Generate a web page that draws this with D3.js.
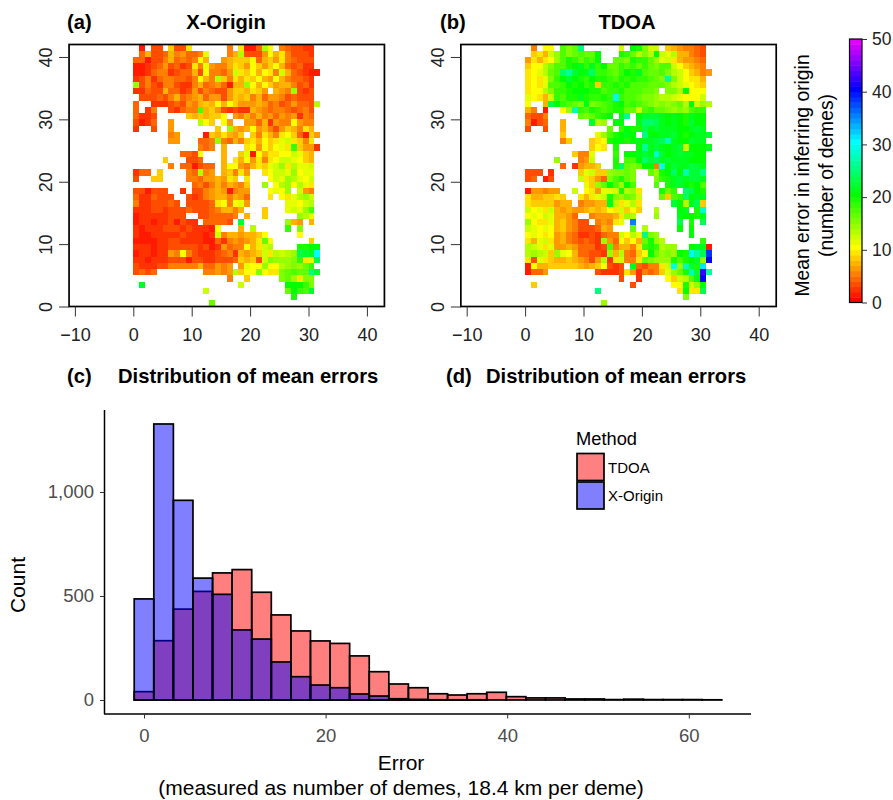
<!DOCTYPE html>
<html>
<head>
<meta charset="utf-8">
<script src="https://cdn.jsdelivr.net/npm/d3@7"></script>
<style>
  html, body { margin: 0; padding: 0; background: #fff; }
  text { font-family: "Liberation Sans", Arial, Helvetica, sans-serif; }
</style>
</head>
<body>
<div id="chart"></div>
<script>
// one char per cell, "." = no data, char position in cellCodes = mean error in demes
// rows run from y = 41 down to y = 0, groups of 10 columns for easier reading
const cellCodes = "0123456789abcdefghijklmnopqrstuvwxyzABCDEFGHIJKLMNOP";

const xOriginRows = [
  ".1.33.8339 ......5.91 14da.54332 2.",
  ".473347564 45b...57d3 336a795333 2.",
  "4413357454 5a7..67888 a478695433 3.",
  "1123463423 95b6557986 a868a74342 2.",
  "1124552344 73a5546c98 a7a95c7432 11",
  "2352455443 5a75d85979 8a76a75443 2.",
  "e353255322 574564177e a7a8677534 2.",
  "2243374423 6354336887 986.765e32 3.",
  ".333435745 6746636878 5746653433 3.",
  "4..2223436 5787a7a866 6764534644 3d",
  "4.25..3245 5h78632322 7654554345 3.",
  "4223.....8 78788a.657 5756465625 4.",
  "3124..6... .da8.a6..6 6472655a65 5.",
  "2..3..6... ....8.e767 a675368759 7.",
  "......56.. ..1879768. 859759a841 86",
  "......66.. .445e54758 97a89bc985 9.",
  ".......... .545.7...9 a6a8ab9i86 62",
  "........44 3a...7..8b 1a799aacb8 7.",
  ".....8...3 34...7.97a 6959accba8 7.",
  "......5.44 1344.7aa65 798bce9dbb c.",
  "244.8....5 4d56.78596 ..9accbeab b.",
  "3..88....5 54667698.9 ...acbedba c.",
  ".......... 4535757658 ..e.adeadb 9.",
  "331333..2. 3356761566 ...abae.c6 5.",
  "4224333..3 2356775764 ...9.a9bde c.",
  "52233343.3 33349a5ab6 ......bbac d.",
  "2223323334 333457757. ..8...bcbe h.",
  "122222333. .3344445.7 ..8.....ed b.",
  "1221223132 2.44443.m. ......e76. 7.",
  "2122233323 2221a...7. d.....i.f. ..",
  "2112222232 2212c57767 78a.....a. ..",
  "1111223322 2211425656 79ga...... 8.",
  "2221223333 323126455a 79cd....jj kk",
  "12212265a5 3222345276 78c9dcdenm lu",
  "2212223331 3322333487 83cfeeefi9 bn",
  "3222335555 5744656.6b aaeaadefeg i.",
  "3434...... ..55656d8a afa99fghgg pm",
  ".......... ......5..8 .....fge9f f.",
  ".l........ ........c. ......kkki f.",
  ".......... ..c....... ......gkih m.",
  ".......... .......... .......j.. ..",
  ".......... ...g...... .......... .."
];

const tdoaRows = [
  ".5.aa.hfgp ......c.kj fcc.876554 3.",
  ".897cehfgh ggk...jigd fdkcbd7754 3.",
  "6979aehjig ihk..ggfji igebc97665 4.",
  "8aadfhhjkl ilikggihig igfhhca876 5.",
  "9abdghoqmk loiihgikjl hgghfdca87 56",
  "9a9bfikmkj ikjjihjiji ihgfqfca99 7.",
  "9a9bhhikjk ij8iijijhh hgggfdcba9 8.",
  "9aadfiijkk kjjhiijhhh ggf.ffdkaa a.",
  "ba97cihjjl jiijitihhg ffeddcbaaa c.",
  "a..7nkihgf lfghijkhih gfefefgdkc ed",
  "75.1..aeri hjihijjggc higgfefehi i.",
  "4335.....g fgijk.lq.k mmmlklkjlk k.",
  "5134..7... .mde.kk..l oonlklkjmk k.",
  "3..3..7... ....g.ikjj nlmlllkklm l.",
  "......8... ..behjklk. pkkllmkjkl lm",
  "......58.. .89ajkkjkl llmnrlkkml l.",
  ".......... .8a9.j...k qlmlklmckk kl",
  "........85 5b...i.kkl mlsmklmllk k.",
  ".....e...5 6c...j.hhk omnlmlllkk k.",
  "......4.26 778..jogfg kk5tkmllnm l.",
  "333.2....8 bc88effgf. .gejkokrmm p.",
  "34.13....c 9864fhjgf. ..fijlmlmm l.",
  ".......... b8egkhekh. ..h.jlmkjk h.",
  "166566..c. a96bbcjde9 ...jgi.onk j.",
  "9778898..9 79bcjfegfc ...g8hiokl l.",
  "98888677.5 6677ld9bd9 .....mkdln 8.",
  "cab9c76766 7878a9c8a8 ..d...kl.j s.",
  "abacb7764. .566679ed. ..e...lkkj l.",
  "ea99b78653 3.5659b.z. ......n.j. n.",
  "cbaba78653 33476...g. d.....k.k. ..",
  "aba9a67542 232455cadb pfe.....k. ..",
  "97bc967543 432e64a8a7 gjed...... i.",
  "dcb9b66764 4423h57759 ijidee..kl l1",
  "dedc8eba74 4332e7d548 akgefekjtq nC",
  "93b9877876 536d29c559 gfeeejhjkm eE",
  "1a77888887 678a323.l4 3559ctermj v.",
  "1446...... ..32223962 5458begjrm Gq",
  ".......... ......3..2 ....a8cdhl E.",
  ".8........ ........3. .....aajce k.",
  ".......... ..p....... ......9k99 n.",
  ".......... .......... .......f.. ..",
  ".......... ...e...... .......... .."
];

// histogram counts, 30 bins centred on multiples of binWidth
const binWidth = 2.157;
const tdoaCounts = [40, 285, 437, 522, 611, 627, 518, 409, 332, 284, 272, 212, 136, 77, 59, 30, 24, 30, 37, 16, 10, 10, 5, 5, 2, 4, 2, 2, 2, 1];
const xOriginCounts = [486, 1327, 960, 586, 508, 337, 293, 183, 112, 72, 59, 29, 19, 6, 3, 1, 1, 1, 0, 0, 0, 0, 0, 0, 0, 0, 0, 0, 0, 0];

const mapXTicks = [-10, 0, 10, 20, 30, 40];
const mapYTicks = [0, 10, 20, 30, 40];
const barTicks = [0, 10, 20, 30, 40, 50];
const histXTicks = [0, 20, 40, 60];
const histYTicks = [0, 500, 1000];
const legendNames = ["TDOA", "X-Origin"];
const legendFills = ["#ff8080", "#8080ff"];

let svgWidth = 893,
    svgHeight = 800;

let svg = d3.select("#chart")
  .append("svg")
  .attr("width", svgWidth)
  .attr("height", svgHeight)
  .attr("viewBox", `0 0 ${svgWidth} ${svgHeight}`)
  .style("display", "block");

function errorColor(v) {
  return d3.hsl(v * 6, 1, 0.5).formatHex();
}

function parseRows(rows) {
  let cells = [];
  rows.forEach(function(row, r) {
    row.replace(/ /g, "").split("").forEach(function(ch, c) {
      if (ch !== ".") {
        cells.push({x: c, y: rows.length - 1 - r, value: cellCodes.indexOf(ch)});
      }
    });
  });
  return cells;
}

function styleAxis(g, color, tickWidth) {
  g.selectAll("path").attr("stroke", "#000").attr("stroke-width", 1.5);
  g.selectAll("line").attr("stroke", "#333").attr("stroke-width", tickWidth);
  g.selectAll("text").attr("fill", color).attr("font-family", "Liberation Sans");
}

function drawMap(rows, zeroX) {
  let pxPerDeme = 5.84,
      top = 44.5,
      bottom = 306.5;

  let x = d3.scaleLinear()
    .domain([-11, 43])
    .range([zeroX - 11 * pxPerDeme, zeroX + 43 * pxPerDeme]);
  let y = d3.scaleLinear().domain([0, 42]).range([bottom, top]);

  svg.append("g")
    .attr("class", "cells")
    .style("filter", "blur(0.35px)")
    .selectAll("rect")
    .data(parseRows(rows))
    .enter().append("rect")
      .attr("x", function(d) { return x(d.x); })
      .attr("y", function(d) { return y(d.y + 1); })
      .attr("width", x(1) - x(0))
      .attr("height", y(0) - y(1))
      .attr("fill", function(d) { return errorColor(d.value); })
      .attr("shape-rendering", "crispEdges");

  svg.append("rect")
    .attr("x", x.range()[0])
    .attr("y", top)
    .attr("width", x.range()[1] - x.range()[0])
    .attr("height", bottom - top)
    .attr("fill", "none")
    .attr("stroke", "#000")
    .attr("stroke-width", 1.7);

  let xAxis = svg.append("g")
    .attr("transform", `translate(0,${bottom})`)
    .call(d3.axisBottom(x).tickValues(mapXTicks).tickSize(10).tickPadding(11.5).tickSizeOuter(0))
    .attr("font-size", 18);
  xAxis.select(".domain").remove();
  styleAxis(xAxis, "#222", 1);

  let yAxis = svg.append("g")
    .attr("transform", `translate(${x.range()[0]},0)`)
    .call(d3.axisLeft(y).tickValues(mapYTicks).tickSize(10).tickSizeOuter(0))
    .attr("font-size", 18);
  yAxis.select(".domain").remove();
  styleAxis(yAxis, "#222", 1);
  yAxis.selectAll("text")
    .attr("text-anchor", "middle")
    .attr("dy", 0)
    .attr("x", 0)
    .attr("y", 0)
    .attr("transform", "translate(-16.7,0) rotate(-90)");
}

function drawColorBar() {
  let y = d3.scaleLinear().domain([0, 50]).range([302.5, 39]);
  let levels = d3.range(0, 50);

  svg.append("g")
    .selectAll("rect")
    .data(levels)
    .enter().append("rect")
      .attr("x", 849.5)
      .attr("y", function(d) { return y(d + 1); })
      .attr("width", 12.5)
      .attr("height", y(0) - y(1) + 0.5)
      .attr("fill", errorColor);

  svg.append("rect")
    .attr("x", 849.5)
    .attr("y", y(50))
    .attr("width", 12.5)
    .attr("height", y(0) - y(50))
    .attr("fill", "none")
    .attr("stroke", "#000")
    .attr("stroke-width", 1.2);

  let axis = svg.append("g")
    .attr("transform", "translate(862,0)")
    .call(d3.axisRight(y).tickValues(barTicks).tickSize(5).tickPadding(5).tickSizeOuter(0))
    .attr("font-size", 17.5);
  axis.select(".domain").remove();
  styleAxis(axis, "#222", 1);

  svg.append("text")
    .attr("transform", "translate(809,175.5) rotate(-90)")
    .attr("text-anchor", "middle")
    .attr("font-size", 19.3)
    .text("Mean error in inferring origin");
  svg.append("text")
    .attr("transform", "translate(833,175.5) rotate(-90)")
    .attr("text-anchor", "middle")
    .attr("font-size", 19.3)
    .text("(number of demes)");
}

function drawHistogram() {
  let x = d3.scaleLinear().domain([0, 20]).range([144, 325.6]);
  let y = d3.scaleLinear().domain([0, 1000]).range([700, 492]);

  function drawBars(counts, fill) {
    svg.append("g")
      .selectAll("rect")
      .data(counts)
      .enter().append("rect")
        .attr("x", function(d, i) { return x((i - 0.5) * binWidth); })
        .attr("y", function(d) { return y(d); })
        .attr("width", x(binWidth) - x(0))
        .attr("height", function(d) { return y(0) - y(d); })
        .attr("fill", fill)
        .attr("fill-opacity", 0.5)
        .attr("stroke", "#000")
        .attr("stroke-width", 1.7);
  }
  drawBars(tdoaCounts, "#ff0000");
  drawBars(xOriginCounts, "#0000ff");

  let xAxis = svg.append("g")
    .attr("transform", "translate(0,714)")
    .call(d3.axisBottom(x).tickValues(histXTicks).tickSize(4.5).tickPadding(10).tickSizeOuter(0))
    .attr("font-size", 18.5);
  xAxis.select(".domain").attr("d", "M104,0H751");
  styleAxis(xAxis, "#4d4d4d", 1);

  let yAxis = svg.append("g")
    .attr("transform", "translate(104.5,0)")
    .call(d3.axisLeft(y).tickValues(histYTicks).tickSize(4.5).tickPadding(6).tickSizeOuter(0).tickFormat(d3.format(",")))
    .attr("font-size", 18.5);
  yAxis.select(".domain").attr("d", "M0,410V714");
  styleAxis(yAxis, "#4d4d4d", 1);

  svg.append("text")
    .attr("transform", "translate(25,585) rotate(-90)")
    .attr("text-anchor", "middle")
    .attr("font-size", 21)
    .text("Count");
  svg.append("text")
    .attr("x", 401)
    .attr("y", 770)
    .attr("text-anchor", "middle")
    .attr("font-size", 21)
    .text("Error");
  svg.append("text")
    .attr("x", 401)
    .attr("y", 795)
    .attr("text-anchor", "middle")
    .attr("font-size", 21)
    .text("(measured as number of demes, 18.4 km per deme)");

  // legend
  svg.append("text")
    .attr("x", 576)
    .attr("y", 445)
    .attr("font-size", 18.3)
    .text("Method");
  let keys = svg.append("g")
    .selectAll("g")
    .data(legendNames)
    .enter().append("g")
      .attr("transform", function(d, i) { return `translate(577,${453.5 + i * 28.5})`; });
  keys.append("rect")
    .attr("width", 27)
    .attr("height", 27)
    .attr("fill", function(d, i) { return legendFills[i]; })
    .attr("stroke", "#000")
    .attr("stroke-width", 1.7);
  keys.append("text")
    .attr("x", 31)
    .attr("y", 19)
    .attr("font-size", 15)
    .text(function(d) { return d; });
}

function label(txt, xPos, yPos, anchor) {
  svg.append("text")
    .attr("x", xPos)
    .attr("y", yPos)
    .attr("text-anchor", anchor || "start")
    .attr("font-size", 20.2)
    .attr("font-weight", "700")
    .text(txt);
}

drawMap(xOriginRows, 133.3);
drawMap(tdoaRows, 525.1);
drawColorBar();
drawHistogram();

label("(a)", 67, 28.5);
label("X-Origin", 226, 28.5, "middle");
label("(b)", 440, 28.5);
label("TDOA", 627, 28.5, "middle");
label("(c)", 67, 383);
label("Distribution of mean errors", 118, 383);
label("(d)", 446, 383);
label("Distribution of mean errors", 486, 383);
</script>
</body>
</html>
